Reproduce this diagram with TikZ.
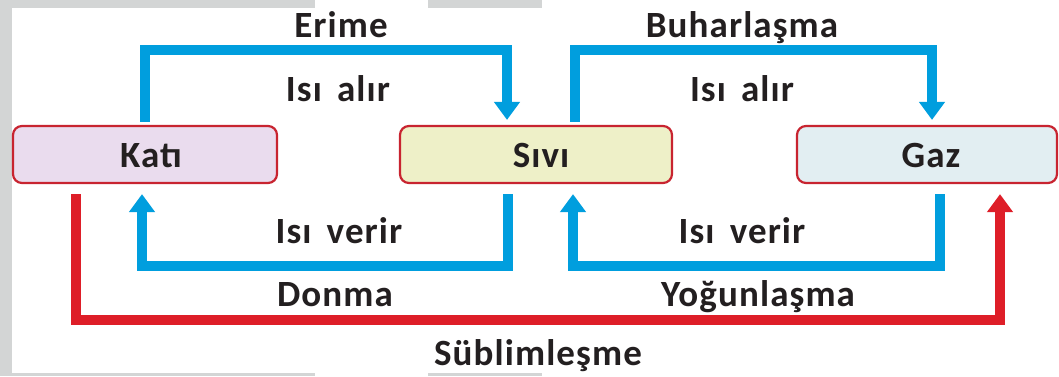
\documentclass[tikz,border=0pt]{standalone}
\usepackage{fontspec}
\setmainfont{Carlito}[LetterSpace=3, WordSpace=1.6]
\usetikzlibrary{arrows.meta}
\definecolor{flowblue}{RGB}{0,158,222}
\definecolor{flowred}{RGB}{222,30,40}
\definecolor{boxred}{RGB}{200,36,48}
\definecolor{katifill}{RGB}{234,220,238}
\definecolor{sivifill}{RGB}{238,240,200}
\definecolor{gazfill}{RGB}{226,238,242}
\definecolor{txt}{RGB}{35,31,32}
\definecolor{strip}{RGB}{211,213,213}
\tikzset{
  statebox/.style={draw=boxred, line width=2.2pt, rounded corners=9pt, inner sep=0pt,
    minimum height=57pt},
  lbl/.style={anchor=base, inner sep=0pt, font=\fontsize{37}{40}\selectfont\bfseries, text=txt},
  bluearr/.style={draw=flowblue, line width=10pt, line join=miter,
    -{Triangle[width=25pt,length=18pt]}},
  redarr/.style={draw=flowred, line width=10pt, line join=miter,
    -{Triangle[width=25pt,length=18pt]}}
}
\begin{document}
\begin{tikzpicture}[x=1pt,y=-1pt]
\useasboundingbox (0,0) rectangle (1059,376);
\fill[white] (0,0) rectangle (1059,376);
% scan strips
\fill[strip] (0,0) rectangle (12,376);
\fill[strip] (0,0) rectangle (315,8);
\fill[strip] (428,0) rectangle (542,8);
\fill[strip] (0,373) rectangle (315,376);
\fill[strip] (428,373) rectangle (542,376);

% state boxes
\node[statebox, fill=katifill, minimum width=264pt] (kati) at (145,154.5) {};
\node[statebox, fill=sivifill, minimum width=272pt] (sivi) at (536,154.5) {};
\node[statebox, fill=gazfill, minimum width=260pt] (gaz) at (927,154.5) {};
\node[lbl] (katit) at (151,167) {Katı};
\node[lbl] (sivit) at (541,167) {Sıvı};
\node[lbl] (gazt) at (931,167) {Gaz};

% coordinates for bends
\coordinate (erimeTop) at (0,50);
\coordinate (bottomBlue) at (0,266);
\coordinate (bottomRed) at (0,320);

% Erime
\draw[bluearr, shorten <=3pt, shorten >=5pt]
  (kati.north) -- (kati.north |- erimeTop) -| ([xshift=-29pt]sivi.north);
% Buharlasma
\draw[bluearr, shorten <=3pt, shorten >=5pt]
  ([xshift=39pt]sivi.north) -- ([xshift=39pt]sivi.north |- erimeTop) -| ([xshift=5pt]gaz.north);
% Donma
\draw[bluearr, shorten <=10pt, shorten >=10pt]
  ([xshift=-28pt]sivi.south) -- ([xshift=-28pt]sivi.south |- bottomBlue) -| ([xshift=-3pt]kati.south);
% Yogunlasma
\draw[bluearr, shorten <=10pt, shorten >=10pt]
  ([xshift=13pt]gaz.south) -- ([xshift=13pt]gaz.south |- bottomBlue) -| ([xshift=37pt]sivi.south);
% Sublimlesme
\draw[redarr, shorten <=10pt, shorten >=10pt]
  ([xshift=-69pt]kati.south) -- ([xshift=-69pt]kati.south |- bottomRed) -| ([xshift=73pt]gaz.south);

% labels
\node[lbl] (erime) at (341,37) {Erime};
\node[lbl] (alir1) at (338,101) {Isı alır};
\node[lbl] (buhar) at (742,37) {Buharlaşma};
\node[lbl] (alir2) at (742,101) {Isı alır};
\node[lbl] (verir1) at (339,243) {Isı verir};
\node[lbl] (verir2) at (742,243) {Isı verir};
\node[lbl] (donma) at (335,306) {Donma};
\node[lbl] (yogun) at (758,306) {Yoğunlaşma};
\node[lbl] (sublim) at (538,365) {Süblimleşme};
\end{tikzpicture}
\end{document}
